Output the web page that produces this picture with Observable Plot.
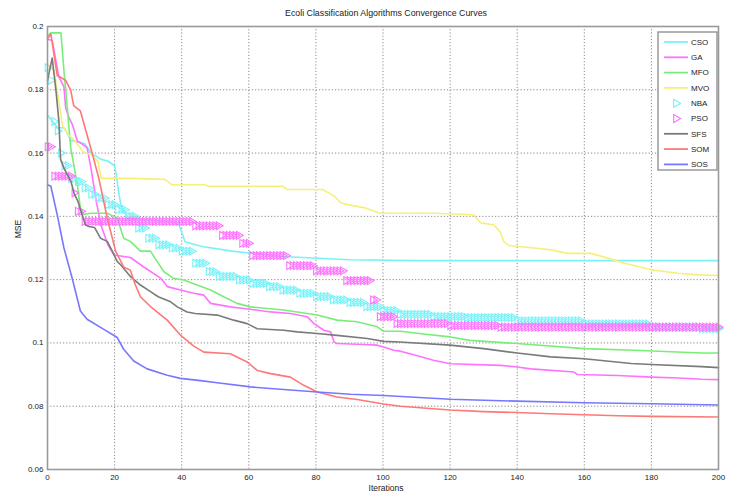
<!DOCTYPE html>
<html><head><meta charset="utf-8">
<script src="https://cdn.jsdelivr.net/npm/d3@7"></script>
<script src="https://cdn.jsdelivr.net/npm/@observablehq/plot@0.6"></script>
<style>
body{margin:0;background:#fff;}
#wrap{position:relative;width:735px;height:497px;font-family:"Liberation Sans Narrow","Liberation Sans",Arial,sans-serif;color:#222;}
#title{position:absolute;left:0;top:8px;width:772px;text-align:center;font-size:8.8px;}
#xlabel{position:absolute;left:0;top:483px;width:772px;text-align:center;font-size:8.5px;}
#ylabel{position:absolute;left:18px;top:229px;font-size:8.5px;transform:translate(-50%,-50%) rotate(-90deg);}
#legend{position:absolute;left:657px;top:31px;}
</style></head>
<body>
<div id="wrap">
  <div id="chart"></div>
  <div id="title">Ecoli Classification Algorithms Convergence Curves</div>
  <div id="xlabel">Iterations</div>
  <div id="ylabel">MSE</div>
  <div id="legend"></div>
</div>
<script>
const FONT = '"Liberation Sans Narrow","Liberation Sans",Arial,sans-serif';
const iterTicks = [0,20,40,60,80,100,120,140,160,180,200];
const mseTicks = [0.06,0.08,0.1,0.12,0.14,0.16,0.18,0.2];
const mseTickLabels = ["0.06","0.08","0.1","0.12","0.14","0.16","0.18","0.2"];
const seriesNames = ["CSO","GA","MFO","MVO","NBA","PSO","SFS","SOM","SOS"];
const seriesColors = ["#78f2f8","#ff72ff","#78ee78","#f6f07a","#78f2f8","#ff72ff","#7a7a7a","#ff7878","#7878ff"];
const seriesKinds = ["line","line","line","line","marker","marker","line","line","line"];

// [iteration, MSE]
const cso = [[0,0.172],[3,0.168],[5,0.168],[7,0.164],[11,0.163],[13,0.160],[16,0.158],[18,0.1575],[20,0.156],[20.5,0.153],[21.3,0.147],[22,0.143],[24,0.1395],[39,0.138],[41,0.132],[46,0.1305],[55,0.129],[70,0.1273],[90,0.1263],[110,0.126],[200,0.126]];
const ga = [[0,0.196],[1.4,0.1956],[3.4,0.184],[4.9,0.181],[5.4,0.1744],[6.4,0.1712],[7.4,0.169],[8.9,0.1638],[10.8,0.1625],[11.8,0.1617],[13,0.155],[14.5,0.145],[16,0.137],[18,0.131],[19.8,0.1278],[24.7,0.127],[28.7,0.124],[33.7,0.1205],[35.7,0.1178],[39.6,0.1167],[43.6,0.1157],[46.6,0.1151],[48.6,0.1125],[54.5,0.1114],[58.5,0.1109],[66.5,0.1098],[72.4,0.1093],[77.4,0.1083],[79.4,0.1061],[82.4,0.104],[84.4,0.1035],[85.4,0.1003],[86.3,0.0998],[94.3,0.0995],[98.3,0.0993],[100.2,0.0987],[103.2,0.0977],[105.2,0.0974],[110,0.096],[115,0.0945],[120,0.0934],[135,0.0929],[140,0.0924],[144,0.0918],[157,0.0908],[158,0.09],[170,0.0897],[180,0.0892],[188,0.0889],[195,0.0885],[200,0.0884]];
const mfo = [[0,0.197],[1,0.198],[4,0.198],[4.9,0.186],[5.9,0.1744],[6.9,0.1617],[8.9,0.150],[9.8,0.1426],[10.8,0.1406],[12.8,0.141],[17.8,0.141],[20.8,0.1395],[22.7,0.1331],[24.7,0.1321],[27.7,0.129],[30.7,0.129],[32.7,0.1257],[34.7,0.1225],[37.6,0.1204],[40.6,0.1199],[44.6,0.1183],[48.6,0.1167],[52.5,0.1146],[56.5,0.1125],[60.5,0.1114],[65.5,0.1109],[70.4,0.1104],[80.4,0.1088],[86.3,0.1072],[92.3,0.1067],[98.3,0.1051],[100.2,0.1037],[105.2,0.1037],[112,0.1028],[120,0.1019],[126,0.1008],[140,0.0998],[160,0.0982],[175,0.0977],[195,0.0968],[200,0.0968]];
const mvo = [[0,0.188],[2,0.186],[4.4,0.169],[6,0.166],[8,0.164],[11,0.160],[13,0.1596],[15,0.1575],[16,0.152],[25,0.152],[35,0.1517],[37,0.150],[47,0.150],[48,0.1495],[70,0.1495],[71.5,0.1485],[82,0.1485],[85.5,0.1464],[87.5,0.1442],[89.5,0.1437],[95,0.1426],[99,0.141],[115,0.141],[127,0.1405],[129,0.138],[133,0.1373],[135,0.135],[136,0.132],[137.5,0.1308],[145,0.130],[150,0.1294],[155,0.1283],[162,0.1283],[167,0.1268],[172,0.1252],[180,0.1231],[188,0.122],[194,0.1215],[200,0.1213]];
// marker series: [iteration where a new best value starts, MSE]
const nba = [[0,0.187],[1,0.183],[2,0.170],[3,0.167],[4,0.160],[5,0.156],[7,0.152],[9,0.151],[11,0.149],[13,0.147],[15,0.1458],[18,0.1437],[21,0.1421],[24,0.140],[27,0.1363],[30,0.1331],[33,0.131],[37,0.130],[40,0.129],[44,0.1252],[48,0.1225],[51,0.121],[57,0.1199],[61,0.1188],[66,0.1178],[70,0.1167],[75,0.1157],[80,0.1146],[85,0.1136],[90,0.1128],[95,0.1115],[100,0.1102],[105,0.109],[115,0.1083],[125,0.108],[140,0.107],[160,0.106],[180,0.105],[195,0.1045]];
const pso = [[0,0.162],[2,0.1527],[8,0.1474],[9,0.1416],[11,0.1384],[44,0.137],[52,0.134],[58,0.1315],[61,0.1276],[72,0.1244],[80,0.1228],[89,0.1197],[97,0.1136],[99,0.1083],[104,0.1061],[120,0.1055],[135,0.105]];
const sfs = [[0,0.183],[1.4,0.190],[2.5,0.180],[3.4,0.170],[3.9,0.158],[5,0.155],[7,0.151],[8,0.147],[9,0.145],[10,0.1415],[11.3,0.1373],[12.3,0.1368],[14,0.1365],[15.8,0.1331],[17.8,0.1321],[19.3,0.129],[20.8,0.1257],[21.8,0.1247],[24.7,0.121],[27.7,0.1183],[30.7,0.1162],[33,0.1146],[36.7,0.113],[38.7,0.1114],[41.6,0.1098],[44,0.1093],[50.6,0.1088],[55.5,0.1072],[59.5,0.1061],[62.5,0.1045],[70.4,0.104],[74.4,0.1035],[80.4,0.103],[86.3,0.1024],[95.3,0.1014],[100.2,0.1005],[105,0.1003],[120,0.0993],[130,0.0982],[140,0.0968],[150,0.0956],[160,0.095],[174,0.0935],[180,0.0932],[195,0.0925],[200,0.0922]];
const som = [[0,0.196],[1,0.1977],[2.9,0.1845],[5.4,0.183],[6.9,0.180],[7.8,0.175],[9.8,0.1733],[13.3,0.160],[15.3,0.152],[17.8,0.1395],[20.3,0.129],[22.7,0.124],[24.7,0.123],[26.2,0.1183],[27.7,0.1146],[30.7,0.1115],[35.7,0.1072],[39.6,0.1025],[43.6,0.099],[46.6,0.0971],[54.5,0.0966],[59.5,0.094],[62.5,0.0913],[66.5,0.0903],[72.4,0.0892],[76.4,0.0866],[80.4,0.0845],[86.3,0.0829],[92.3,0.0821],[100.2,0.0807],[105.2,0.080],[120,0.0788],[130,0.0783],[140,0.078],[150,0.0776],[160,0.0773],[170,0.077],[180,0.0768],[200,0.0766]];
const sos = [[0,0.150],[1,0.1495],[3,0.140],[4.9,0.130],[7.4,0.1203],[9.8,0.1101],[11.8,0.1075],[16.8,0.1043],[20.8,0.1017],[22.7,0.098],[25.7,0.0943],[29.7,0.0918],[35.7,0.0898],[39.6,0.0888],[45.6,0.0881],[50.6,0.0874],[60.5,0.0861],[70.4,0.0853],[80.4,0.0845],[90.3,0.0838],[100.2,0.0834],[120,0.0822],[140,0.0816],[160,0.0811],[180,0.0808],[200,0.0804]];
const seriesData = [cso, ga, mfo, mvo, nba, pso, sfs, som, sos];
const lastIter = 200;

// markers drawn at every iteration, holding the best value reached so far
function markerPoints(steps) {
  const pts = [];
  let k = 0;
  for (let i = 0; i <= lastIter; i++) {
    while (k + 1 < steps.length && steps[k + 1][0] <= i) k++;
    pts.push([i, steps[k][1]]);
  }
  return pts;
}

const marks = [
  Plot.gridX(iterTicks, {stroke: "#8a8a8a", strokeOpacity: 1, strokeDasharray: "1.2,2"}),
  Plot.gridY(mseTicks, {stroke: "#8a8a8a", strokeOpacity: 1, strokeDasharray: "1.2,2"})
];
seriesNames.forEach((name, i) => {
  if (seriesKinds[i] === "line") {
    marks.push(Plot.line(seriesData[i], {x: d => d[0], y: d => d[1], stroke: seriesColors[i], strokeWidth: 1.6}));
  } else {
    marks.push(Plot.dot(markerPoints(seriesData[i]), {x: d => d[0], y: d => d[1], symbol: "triangle", rotate: 90, r: 2.9, stroke: seriesColors[i], fill: "none", strokeWidth: 1.1}));
  }
});
marks.push(Plot.frame({stroke: "#9a9a9a", strokeWidth: 1.6}));

const chart = Plot.plot({
  width: 735, height: 497,
  marginLeft: 47, marginRight: 17, marginTop: 26, marginBottom: 28,
  style: {fontFamily: FONT, fontSize: "8px", color: "#222", background: "white"},
  x: {domain: [0, 200], ticks: iterTicks, tickSize: 0, tickPadding: 5, label: null},
  y: {domain: [0.06, 0.2], ticks: mseTicks, tickSize: 0, tickPadding: 4, label: null,
      tickFormat: d => mseTickLabels[mseTicks.findIndex(t => Math.abs(t - d) < 1e-9)]},
  marks
});
document.getElementById("chart").appendChild(chart);

// legend
const lg = d3.select("#legend").append("svg").attr("width", 62).attr("height", 141)
  .style("font-family", FONT).style("font-size", "8px");
lg.append("rect").attr("x", 1).attr("y", 1).attr("width", 59).attr("height", 138)
  .attr("fill", "white").attr("stroke", "#999").attr("stroke-width", 1.5);
seriesNames.forEach((name, i) => {
  const y = 11 + i * 15.3;
  if (seriesKinds[i] === "line") {
    lg.append("line").attr("x1", 7).attr("x2", 31).attr("y1", y).attr("y2", y)
      .attr("stroke", seriesColors[i]).attr("stroke-width", 1.8);
  } else {
    lg.append("path").attr("d", d3.symbol(d3.symbolTriangle, 28)())
      .attr("transform", `translate(19,${y}) rotate(90)`)
      .attr("fill", "none").attr("stroke", seriesColors[i]).attr("stroke-width", 1.1);
  }
  lg.append("text").attr("x", 34).attr("y", y).attr("dy", "0.35em").attr("fill", "#222").text(name);
});
</script>
</body></html>
